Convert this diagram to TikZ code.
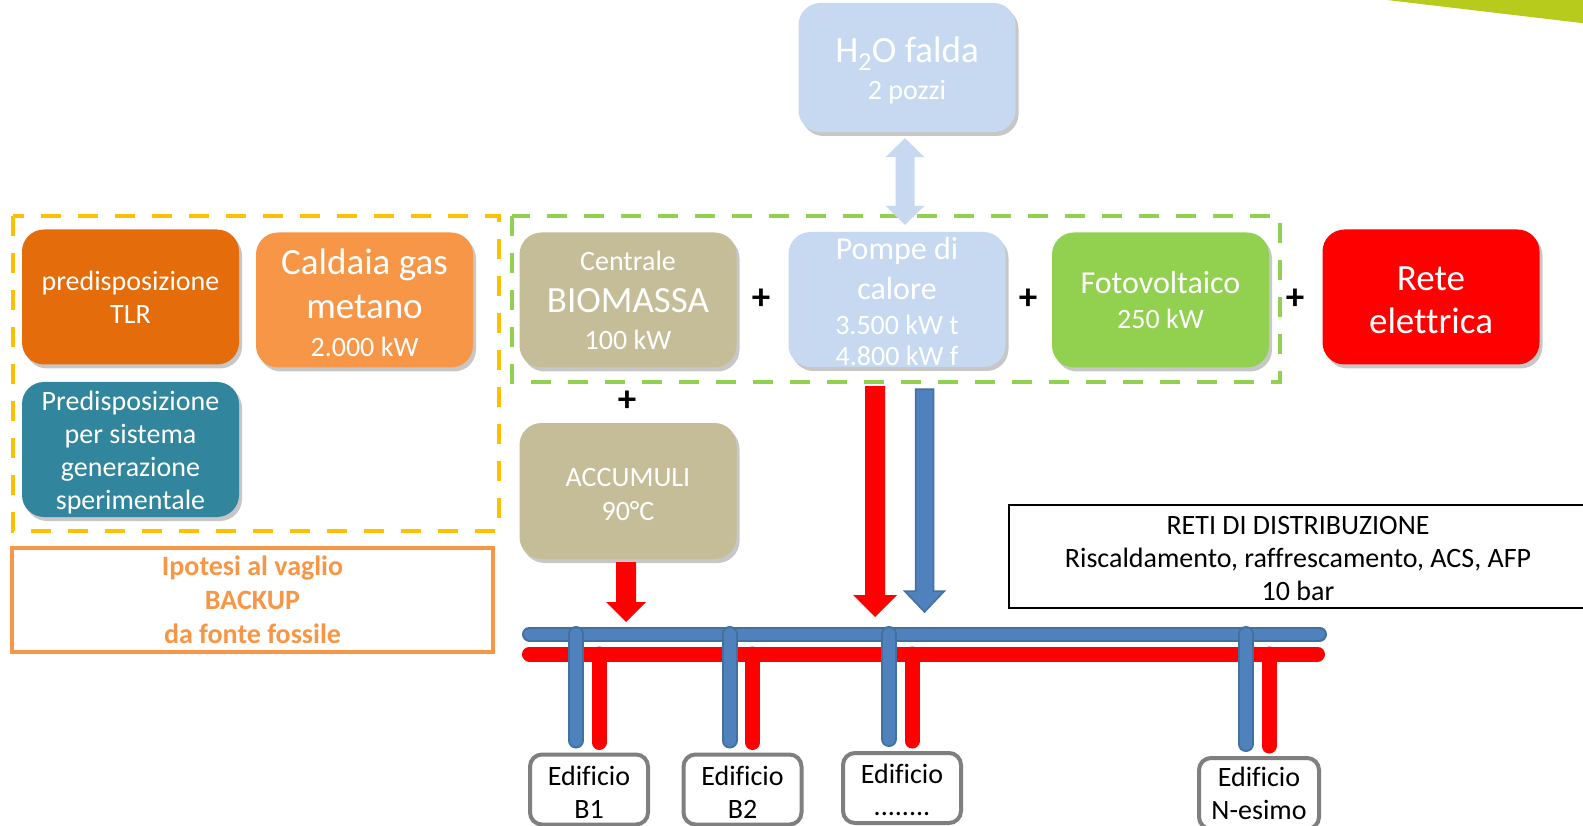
\documentclass[tikz,border=0pt]{standalone}
\usepackage{fontspec}
\setmainfont{Carlito}[Ligatures=CommonOff]
\usetikzlibrary{calc,shadows}
\definecolor{tlrC}{HTML}{E46C0A}
\definecolor{caldC}{HTML}{F79646}
\definecolor{tealC}{HTML}{31859C}
\definecolor{bioC}{HTML}{C4BD97}
\definecolor{ltblueC}{HTML}{C6D9F1}
\definecolor{fotoC}{HTML}{92D050}
\definecolor{reteC}{HTML}{FF0000}
\definecolor{yelC}{HTML}{FFC000}
\definecolor{pipeB}{HTML}{4F81BD}
\definecolor{pipeBd}{HTML}{41719C}
\definecolor{edgeG}{HTML}{7F7F7F}
\definecolor{cornerC}{HTML}{B7CB1C}
\newcommand\fsnorm{\fontsize{28}{0}\selectfont\lineskiplimit=-1000pt\relax}
\newcommand\fsbig{\fontsize{37}{0}\selectfont}
\newcommand\fsmid{\fontsize{32}{0}\selectfont}
\newcommand\dnarrow[6]{\path[#1] let \p1=(#2), \p2=(#3) in
  (\x1-#4,\y1) -- (\x1-#4,\y2+#6) -- (\x1-#5,\y2+#6) -- (\x1,\y2) --
  (\x1+#5,\y2+#6) -- (\x1+#4,\y2+#6) -- (\x1+#4,\y1) -- cycle;}
\newcommand\dblarrow[6]{\path[#1] let \p1=(#2), \p2=(#3) in
  (\x1,\y1) -- (\x1+#5,\y1-#6) -- (\x1+#4,\y1-#6) -- (\x1+#4,\y2+#6) --
  (\x1+#5,\y2+#6) -- (\x1,\y2) -- (\x1-#5,\y2+#6) -- (\x1-#4,\y2+#6) --
  (\x1-#4,\y1-#6) -- (\x1-#5,\y1-#6) -- cycle;}
\tikzset{
  box/.style={rounded corners=22pt, minimum width=217pt, minimum height=135pt,
    inner sep=0pt, text=white, align=center, font=\fsnorm,
    drop shadow={shadow xshift=3pt, shadow yshift=-4pt, opacity=0.22, fill=black}},
  plus/.style={inner sep=0pt, font=\fontsize{37}{0}\selectfont\bfseries},
  edif/.style={draw=edgeG, line width=4pt, fill=white, rounded corners=12pt,
    minimum width=118pt, minimum height=70pt, inner sep=0pt, align=center, font=\fsnorm},
  yelframe/.style={draw=yelC, line width=4pt, dash pattern=on 20pt off 17pt},
  grnframe/.style={draw=fotoC, line width=4pt, dash pattern=on 20pt off 17pt},
  bpipe/.style={line width=2pt, draw=pipeBd, double=pipeB, double distance=11pt, line cap=round},
  rpipe/.style={line width=15pt, draw=reteC, line cap=round},
}
\begin{document}
\begin{tikzpicture}[x=1pt,y=-1pt]
\clip (0,0) rectangle (1583,826);
\fill[white] (0,0) rectangle (1583,826);
\fill[cornerC] (1387,0) -- (1590,0) -- (1590,24) -- cycle;

% frames
\draw[yelframe] (13,216) rectangle (499,531);
\draw[grnframe] (512,216) rectangle (1280,382);

% left group
\node[box, fill=tlrC] (tlr) at (130.5,297) {predisposizione\\[33pt]TLR};
\node[box, fill=caldC] (cald) at (364.5,300) {\rule{0pt}{31pt}{\fsbig Caldaia gas}\\[44pt]{\fsbig metano}\\[38pt]2.000 kW};
\node[box, fill=tealC] (teal) at (130.5,449.5) {\rule{0pt}{25pt}Predisposizione\\[33pt]per sistema\\[33pt]generazione\\[33pt]sperimentale};
\node[draw=caldC, line width=4pt, minimum width=481pt, minimum height=104pt, inner sep=0pt,
  text=caldC, align=center, font=\fsnorm\bfseries] (ipo) at (252.5,599.5)
  {Ipotesi al vaglio\\[34pt]BACKUP\\[34pt]da fonte fossile};

% main row
\node[box, fill=bioC] (bio) at (628,300) {Centrale\\[42pt]{\fsbig BIOMASSA}\\[37pt]100 kW};
\node[box, fill=ltblueC] (pompe) at (897,299.5) {\rule{0pt}{27pt}{\fsmid Pompe di}\\[40pt]{\fsmid calore}\\[35pt]3.500 kW t\\[31pt]4.800 kW f};
\node[box, fill=fotoC] (foto) at (1160.5,300) {{\fsmid Fotovoltaico}\\[35pt]250 kW};
\node[box, fill=reteC] (rete) at (1431,297) {\rule{0pt}{31pt}{\fsbig Rete}\\[43pt]{\fsbig elettrica}};
\node[box, fill=ltblueC, minimum height=129pt] (h2o) at (907,67.5) {\rule{0pt}{32pt}{\fsbig H\textsubscript{2}O falda}\\[37pt]2 pozzi};
\node[box, fill=bioC, minimum height=136pt] (acc) at (628,491) {\rule{0pt}{26pt}ACCUMULI\\[34pt]90°C};

\node[plus] (p1) at (761,299) {+};
\node[plus] (p2) at (1028,299) {+};
\node[plus] (p3) at (1295,299) {+};
\node[plus] (p4) at (627,401) {+};

% H2O double arrow
\coordinate (dTop) at ($(h2o.south)+(-2,6)$);
\coordinate (dBot) at ($(pompe.north)+(8,-7)$);
\dblarrow{fill=ltblueC}{dTop}{dBot}{9.5pt}{19.5pt}{19pt}

% distribution box
\node[draw, line width=2pt, minimum width=578pt, minimum height=103pt, inner sep=0pt,
  align=center, font=\fsnorm] (reti) at (1298,556.5)
  {\rule{0pt}{23pt}RETI DI DISTRIBUZIONE\\[33pt]Riscaldamento, raffrescamento, ACS, AFP\\[33pt]10 bar};

% buildings
\node[edif] (b1) at (589,789.5) {\rule{0pt}{24pt}Edificio\\[33pt]B1};
\node[edif] (b2) at (742.5,789.5) {\rule{0pt}{24pt}Edificio\\[33pt]B2};
\node[edif] (b3) at (902,788) {\rule{0pt}{24pt}Edificio\\[32pt]........};
\node[edif, minimum width=120pt, minimum height=71pt] (bn) at (1259,793.5) {Edificio\\[33pt]N-esimo};

% pipes
\coordinate (bpL) at (529.5,634);
\coordinate (bpR) at (1319.5,634);
\coordinate (rpL) at (529.5,654);
\coordinate (rpR) at (1317.5,654);
\draw[bpipe] (bpL) -- (bpR);
\draw[rpipe] (rpL) -- (rpR);
\foreach \b in {b1,b2,b3,bn}{
  \draw[rpipe] ($(\b.north |- rpL)+(10,0)$) -- ($(\b.north)+(10,-10)$);
}
\foreach \b in {b1,b2,b3,bn}{
  \draw[bpipe, double distance=12pt] ($(\b.north |- bpL)+(-13,0)$) -- ($(\b.north)+(-13,-12)$);
}

% supply arrows
\coordinate (aS) at ($(acc.south)+(-2,3)$);
\coordinate (aT) at (626,622);
\dnarrow{fill=reteC}{aS}{aT}{10pt}{20pt}{20pt}
\coordinate (rS) at ($(pompe.south)+(-22,19)$);
\coordinate (rT) at (875,617);
\dnarrow{fill=reteC}{rS}{rT}{10pt}{22pt}{22pt}
\coordinate (uS) at ($(pompe.south)+(27.5,22)$);
\coordinate (uT) at (924.5,612);
\dnarrow{fill=pipeB, draw=pipeBd, line width=1.5pt}{uS}{uT}{9pt}{20pt}{21pt}
\end{tikzpicture}
\end{document}
